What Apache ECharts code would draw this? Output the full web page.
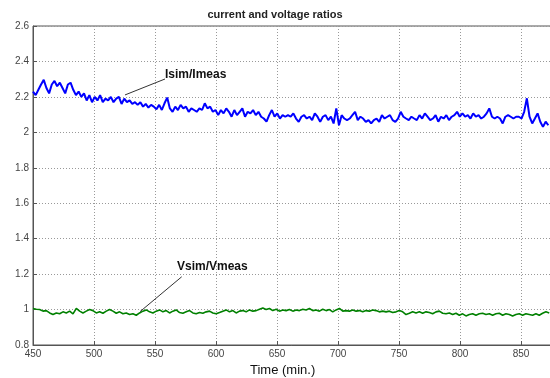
<!DOCTYPE html>
<html>
<head>
<meta charset="utf-8">
<script src="https://cdn.jsdelivr.net/npm/echarts@6/dist/echarts.min.js"></script>
<style>html,body{margin:0;padding:0;background:#fff;overflow:hidden;}#c{width:550px;height:378px;}</style>
</head>
<body>
<div id="c"></div>
<script>
// ---- data ----
const chartTitle = 'current and voltage ratios';
const xAxisTitle = 'Time (min.)';
const currentLabel = 'Isim/Imeas';
const voltageLabel = 'Vsim/Vmeas';

// Isim/Imeas: sampled every 2.2 min in four stretches
const currentStarts = [450, 553.4, 659, 762.4];
const currentStep = 2.2;
const currentA = [2.23,2.21,2.24,2.27,2.296,2.25,2.22,2.27,2.29,2.26,2.28,2.25,2.22,2.27,2.28,2.24,2.21,2.23,2.20,
  2.22,2.18,2.21,2.17,2.20,2.18,2.21,2.17,2.19,2.18,2.20,2.17,2.19,2.20,2.16,2.19,2.17,2.18,2.16,2.17,2.155,2.17,2.145,2.16,2.14,2.155,2.145,2.13];
const currentB = [2.155,2.126,2.164,2.196,2.135,2.116,2.145,2.126,2.155,2.135,2.145,2.116,2.135,2.126,2.116,2.135,2.126,2.164,2.135,2.145,
  2.116,2.126,2.097,2.126,2.107,2.135,2.116,2.088,2.126,2.097,2.116,2.135,2.088,2.116,2.107,2.126,2.097,2.116,2.088,2.078,2.06,2.097,2.126,2.088,2.107,2.078,2.097,2.088];
const currentC = [2.097,2.088,2.107,2.078,2.059,2.088,2.097,2.078,2.088,2.069,2.107,2.088,2.059,2.088,2.097,2.069,2.088,2.05,2.135,2.04,
  2.097,2.078,2.069,2.078,2.097,2.116,2.069,2.088,2.078,2.059,2.069,2.05,2.069,2.078,2.059,2.097,2.078,2.088,2.097,2.069,2.059,2.078,2.116,2.088,2.078,2.069,2.088];
const currentD = [2.078,2.069,2.097,2.078,2.107,2.088,2.069,2.078,2.097,2.06,2.088,2.078,2.097,2.069,2.088,2.097,2.116,2.088,2.107,2.088,
  2.097,2.078,2.107,2.088,2.097,2.078,2.088,2.107,2.135,2.088,2.078,2.088,2.078,2.05,2.088,2.097,2.088,2.078,2.088,2.088,2.078,2.116,2.192,
  2.088,2.05,2.078,2.107,2.06,2.031,2.06,2.04];

// Vsim/Vmeas: sampled every 2.73 min from 450
const voltageStart = 450;
const voltageStep = 2.73;
const voltage = [1.006,1.002,1.0,0.991,0.994,0.981,0.972,0.981,0.976,0.987,0.981,0.991,0.976,1.006,0.991,0.981,0.991,1.0,0.994,0.981,
  0.987,0.979,0.991,1.0,0.991,0.979,0.987,0.976,0.981,0.972,0.976,0.968,0.981,0.991,0.998,0.987,0.981,0.991,0.998,0.987,
  0.994,0.981,0.991,0.998,0.983,0.979,0.987,0.994,0.981,0.976,0.983,0.979,0.987,0.991,0.981,0.976,0.983,0.991,0.998,0.987,
  0.994,0.981,0.991,0.994,0.987,0.998,0.991,0.994,1.002,1.009,1.0,1.006,0.994,1.002,0.991,0.998,0.994,1.0,
  0.991,0.998,0.994,1.002,0.998,1.006,0.994,0.998,0.991,1.002,0.994,1.0,0.987,0.998,1.006,0.991,0.994,0.991,0.998,0.991,
  0.994,0.987,0.994,0.991,0.998,0.994,0.987,0.991,0.987,0.991,0.983,0.987,0.994,0.987,0.972,0.979,0.987,0.981,0.987,0.979,
  0.987,0.983,0.976,0.987,0.991,0.979,0.976,0.981,0.972,0.979,0.968,0.976,0.964,0.972,0.976,0.968,0.976,0.979,0.972,0.976,
  0.968,0.976,0.979,0.968,0.976,0.972,0.964,0.972,0.976,0.968,0.976,0.972,0.968,0.976,0.968,0.979,0.987,0.981];

const xTicks = {min: 450, max: 900, step: 50};
const yTicks = {min: 0.8, max: 2.6, step: 0.2};

// annotation anchor points (data units)
const currentArrow = [[525.4, 2.211], [558.2, 2.301]];
const currentText = [558.2, 2.324];
const voltageArrow = [[537.7, 0.988], [571.9, 1.185]];
const voltageText = [568, 1.24];

// ---- build ----
function seg(starts, step, arrays) {
  const out = [];
  arrays.forEach((arr, k) => arr.forEach((v, i) => out.push([+(starts[k] + step * i).toFixed(2), v])));
  return out;
}
const currentData = seg(currentStarts, currentStep, [currentA, currentB, currentC, currentD]);
const voltageData = voltage.map((v, i) => [+(voltageStart + voltageStep * i).toFixed(2), v]);

const tickFont = {color: '#444', fontSize: 10, fontFamily: 'Liberation Sans Narrow, Liberation Sans, Arial'};
const gridLine = {show: true, lineStyle: {color: '#999', type: [1, 2], width: 1}};
const annFont = {color: '#111', fontSize: 12, fontWeight: 'bold', fontFamily: 'Liberation Sans, Arial'};

function arrow(pts) {
  return {
    silent: true, symbol: ['none', 'arrow'], symbolSize: [0, 7],
    lineStyle: {color: '#333', width: 1, type: 'solid'}, label: {show: false},
    data: [[{coord: pts[0]}, {coord: pts[1]}]]
  };
}
function tag(pt, text) {
  return {
    silent: true, symbol: 'circle', symbolSize: 0,
    label: Object.assign({show: true, position: 'right', distance: 0, formatter: text}, annFont),
    data: [{coord: pt}]
  };
}

const chart = echarts.init(document.getElementById('c'), null, {renderer: 'canvas'});
chart.setOption({
  animation: false,
  backgroundColor: '#fff',
  title: [{
    text: chartTitle, left: 'center', top: 4,
    textStyle: {fontSize: 11, fontWeight: 'bold', color: '#222', fontFamily: 'Liberation Sans, Arial'}
  }],
  graphic: [{
    type: 'text', left: 250, top: 364,
    style: {text: xAxisTitle, fontSize: 13, fill: '#111', fontFamily: 'Liberation Sans, Arial'}
  }],
  grid: {left: 33, top: 26, right: -32, bottom: 33, outerBoundsMode: 'none', containLabel: false,
    show: true, borderColor: '#555', borderWidth: 1, backgroundColor: '#fff'},
  xAxis: {
    type: 'value', min: xTicks.min, max: xTicks.max, interval: xTicks.step,
    axisLine: {show: true, lineStyle: {color: '#555'}},
    axisTick: {show: true, inside: true, length: 4, lineStyle: {color: '#555'}},
    axisLabel: Object.assign({margin: 4}, tickFont),
    splitLine: gridLine
  },
  yAxis: {
    type: 'value', min: yTicks.min, max: yTicks.max, interval: yTicks.step,
    axisLine: {show: true, lineStyle: {color: '#555'}},
    axisTick: {show: true, inside: true, length: 4, lineStyle: {color: '#555'}},
    axisLabel: Object.assign({margin: 4}, tickFont),
    splitLine: gridLine
  },
  series: [
    {
      name: currentLabel, type: 'line', data: currentData, showSymbol: false,
      lineStyle: {color: '#0000ff', width: 2}, itemStyle: {color: '#0000ff'},
      markLine: arrow(currentArrow), markPoint: tag(currentText, currentLabel)
    },
    {
      name: voltageLabel, type: 'line', data: voltageData, showSymbol: false,
      lineStyle: {color: '#008000', width: 1.6}, itemStyle: {color: '#008000'},
      markLine: arrow(voltageArrow), markPoint: tag(voltageText, voltageLabel)
    }
  ]
});
</script>
</body>
</html>
